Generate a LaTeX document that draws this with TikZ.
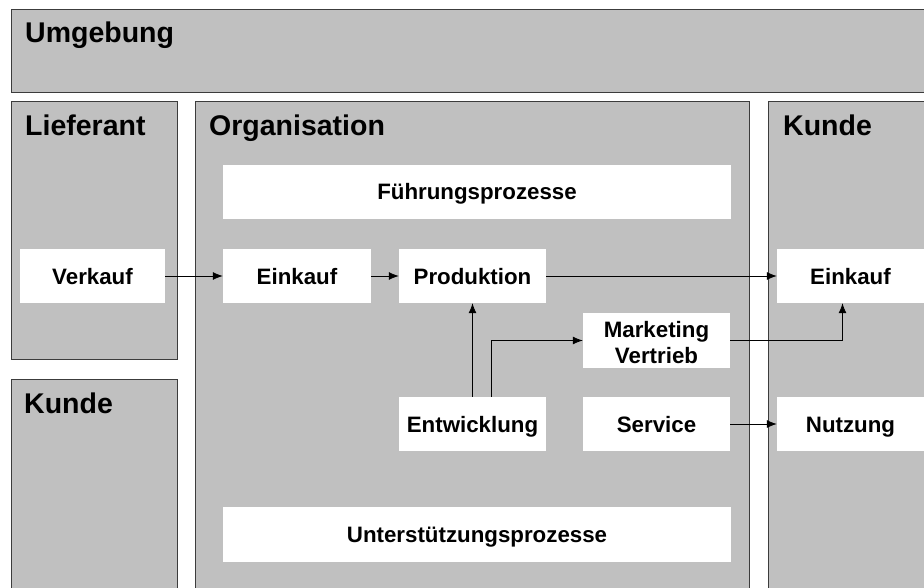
\documentclass[tikz,border=0pt]{standalone}
\usepackage{fontspec}
\setmainfont{Liberation Sans}
\usepackage{tikz}
\usetikzlibrary{arrows,arrows.meta,shapes}
\usepackage{xcolor}
\definecolor{pmgray}{RGB}{192,192,192}
\definecolor{pmborder}{RGB}{60,60,60}
\tikzstyle{zone} = [draw=pmborder, line width=0.9pt, fill=pmgray, anchor=north west, inner sep=0pt]
\tikzstyle{zonetitle} = [anchor=base west, inner sep=0pt, font=\fontsize{28.5}{32}\selectfont\bfseries]
\tikzstyle{proc} = [fill=white, inner sep=0pt, minimum width=147pt, minimum height=54pt, text height=20pt, text depth=4pt, align=center, font=\fontsize{22.3}{26}\selectfont\bfseries]
\tikzstyle{arrow} = [line width=0.8pt,->,>={Latex[length=10pt,width=8pt]},color=black]

\begin{document}
\begin{tikzpicture}[x=1pt, y=-1pt]
\useasboundingbox (0,0) rectangle (924,588);
\fill[white] (0,0) rectangle (924,588);
\clip (0,0) rectangle (924,588);
% Zones
\node[zone, minimum width=950pt, minimum height=83pt] (env) at (11,9) {};
\node[zone, minimum width=166pt, minimum height=258pt] (lief) at (11,101) {};
\node[zone, minimum width=166pt, minimum height=250pt] (kdl) at (11,379) {};
\node[zone, minimum width=554pt, minimum height=520pt] (org) at (195,101) {};
\node[zone, minimum width=200pt, minimum height=520pt] (kdr) at (768,101) {};
\node[zonetitle] (envtitle) at ([xshift=14pt,yshift=-34pt]env.north west) {Umgebung};
\node[zonetitle] (lieftitle) at ([xshift=14pt,yshift=-35pt]lief.north west) {Lieferant};
\node[zonetitle] (kdltitle) at ([xshift=13pt,yshift=-34pt]kdl.north west) {Kunde};
\node[zonetitle] (orgtitle) at ([xshift=14pt,yshift=-35pt]org.north west) {Organisation};
\node[zonetitle] (kdrtitle) at ([xshift=15pt,yshift=-35pt]kdr.north west) {Kunde};

% Processes
\node[proc, minimum width=508pt] (fuehr) at (477,192) {Führungsprozesse};
\node[proc, minimum width=145pt] (verk) at (92.5,276) {Verkauf};
\node[proc, minimum width=148pt] (einorg) at (297,276) {Einkauf};
\node[proc] (prod) at (472.5,276) {Produktion};
\node[proc] (einkd) at (850.5,276) {Einkauf};
\node[proc, minimum height=55pt, text height=47pt, text depth=2pt] (mark) at (656.5,340.5) {Marketing\\Vertrieb};
\node[proc] (entw) at (472.5,424) {Entwicklung};
\node[proc] (serv) at (656.5,424) {Service};
\node[proc] (nutz) at (850.5,424) {Nutzung};
\node[proc, minimum width=508pt, minimum height=55pt] (unter) at (477,534.5) {Unterstützungsprozesse};

% Flows
\draw[arrow] (verk.east) -- (einorg.west);
\draw[arrow] (einorg.east) -- (prod.west);
\draw[arrow] (prod.east) -- (einkd.west);
\draw[arrow] (entw.north) -- (prod.south);
\draw[arrow] ([xshift=19pt]entw.north) |- (mark.west);
\draw[arrow] (mark.east) -| ([xshift=-8pt]einkd.south);
\draw[arrow] (serv.east) -- (nutz.west);
\end{tikzpicture}
\end{document}
